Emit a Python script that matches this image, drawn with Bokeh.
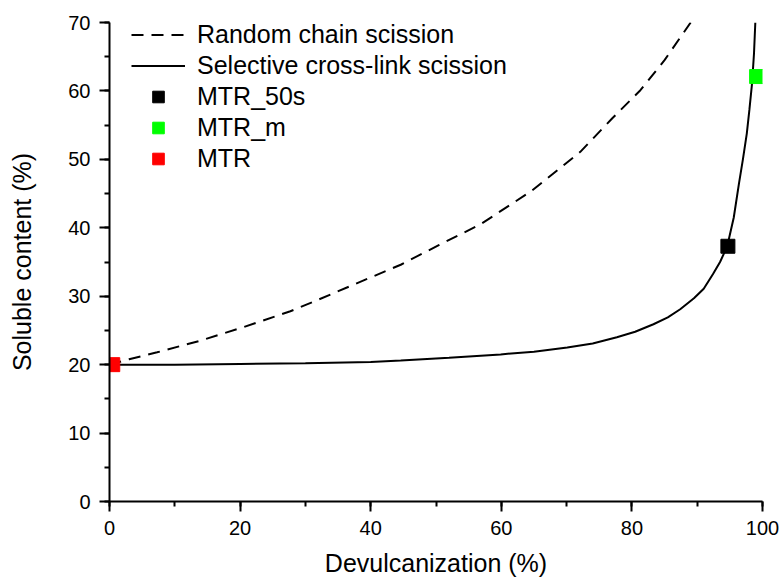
from bokeh.plotting import figure
from bokeh.models import (Range1d, SingleIntervalTicker, Legend, LegendItem)
from bokeh.embed import file_html
from bokeh.resources import INLINE

# ---- data ----
random_x = [0, 3.0, 7.3, 13.9, 20.6, 27.7, 32.0, 37.4, 44.6, 50.5, 56.8, 64.5, 72.1, 77.0, 81.3, 85.0, 89.0]
random_y = [20.0, 20.8, 21.8, 23.5, 25.5, 27.8, 29.5, 31.7, 34.6, 37.5, 40.5, 45.3, 51.1, 56.0, 60.1, 64.5, 70.0]

selective_x = [0, 10, 20, 30, 40, 44.6, 52, 59.9, 65, 70.1, 74, 77.7, 80.5, 83.3, 85.5, 87.4, 89.5, 91.0,
               92.4, 93.5, 94.6, 95.6, 96.4, 97.0, 97.6, 98.0, 98.4, 98.7, 98.9]
selective_y = [20.0, 20.0, 20.1, 20.2, 20.4, 20.6, 21.0, 21.5, 21.9, 22.5, 23.1, 24.0, 24.8, 25.9, 26.9, 28.1, 29.7, 31.1,
               33.2, 35.0, 37.3, 41.5, 46.5, 50.0, 53.8, 57.3, 61.1, 65.5, 70.0]

sample_names = ["MTR_50s", "MTR_m", "MTR"]
sample_x = [94.7, 99.1, 0.5]
sample_y = [37.3, 62.1, 20.0]
sample_colors = ["#000000", "#00ff00", "#ff0000"]

x_ticks_interval = 20
y_ticks_interval = 10

FONT = "Liberation Sans"

p = figure(width=782, height=579, output_backend="svg", toolbar_location=None,
           x_range=Range1d(0, 100), y_range=Range1d(0, 70),
           min_border_left=109, min_border_right=20, min_border_top=22, min_border_bottom=77)
p.outline_line_color = None
p.xgrid.visible = False
p.ygrid.visible = False
p.background_fill_color = "white"

r_random = p.line(random_x, random_y, line_color="black", line_width=2, line_dash="12 8")
r_sel = p.line(selective_x, selective_y, line_color="black", line_width=2)

sample_renderers = []
for name, sx, sy, c in zip(sample_names, sample_x, sample_y, sample_colors):
    r = p.scatter([sx], [sy], marker="square", size=14, fill_color=c, line_color=c)
    sample_renderers.append(r)

for ax in (p.xaxis[0], p.yaxis[0]):
    ax.axis_line_width = 2
    ax.major_tick_line_width = 2
    ax.minor_tick_line_width = 2
    ax.major_tick_out = 10
    ax.major_tick_in = 0
    ax.minor_tick_out = 5
    ax.minor_tick_in = 0
    ax.major_label_text_font = FONT
    ax.major_label_text_font_size = "20px"
    ax.major_label_text_color = "black"
    ax.axis_label_text_font = FONT
    ax.axis_label_text_font_size = "25px"
    ax.axis_label_text_font_style = "normal"
    ax.axis_label_text_color = "black"

p.xaxis[0].ticker = SingleIntervalTicker(interval=x_ticks_interval, num_minor_ticks=2)
p.yaxis[0].ticker = SingleIntervalTicker(interval=y_ticks_interval, num_minor_ticks=2)
p.xaxis[0].axis_label = "Devulcanization (%)"
p.yaxis[0].axis_label = "Soluble content (%)"
p.xaxis[0].major_label_standoff = 9
p.xaxis[0].axis_label_standoff = 11
p.yaxis[0].major_label_standoff = 9
p.yaxis[0].axis_label_standoff = 29

items = [LegendItem(label="Random chain scission", renderers=[r_random]),
         LegendItem(label="Selective cross-link scission", renderers=[r_sel])]
for name, r in zip(sample_names, sample_renderers):
    items.append(LegendItem(label=name, renderers=[r]))

legend = Legend(items=items, location=(22, 328), padding=0, margin=0, spacing=2,
                glyph_width=54, glyph_height=29, label_height=29, label_standoff=12,
                label_text_font=FONT, label_text_font_size="25px", label_text_color="black",
                border_line_color=None, background_fill_alpha=0)
p.add_layout(legend)

open("out.html", "w").write(file_html(p, INLINE))
